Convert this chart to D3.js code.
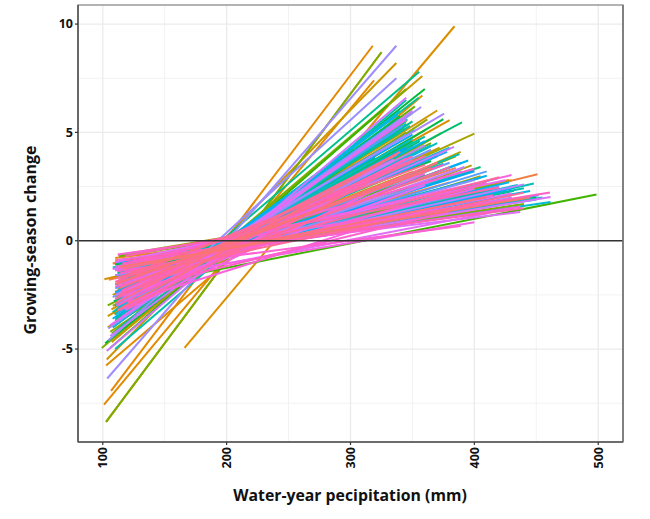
<!DOCTYPE html>
<html><head><meta charset="utf-8">
<script src="https://cdn.jsdelivr.net/npm/d3@7"></script>
<style>
body{margin:0;background:#fff}
text{font-family:"Open Sans","Noto Sans",sans-serif;font-weight:700;fill:#111}
</style>
</head><body>
<svg id="chart" width="650" height="519"></svg>
<script>
// One regression line per site: start (precip, change) and end (precip, change)
const startX = [
  110,110,113,110,112,108,118,105,108.6,112,116,110,120,106.7,101,102.7,
  102.7,166,107,101.3,110,120,104,109,103.2,107.2,115,120,111,114,118,108,
  104,108,110,112,117,114,112.6,115,110,106,118,111,112,110,116,120,
  99.2,102.7,104,107.2,113,116,113,123,110,120,106,115,114,110,118,112,
  101.9,125,115,112,109,122,108,118,112,112,111,110,116,110,113,120,
  110,110,112,112,115,114,112,108,120,110,108,110,112,115,110,118,
  113,110,115,112,118,108,110,114,110,112,116,120,112,110,116,113,
  110,112,115,108,113,118,110,112,116,111,114,120,110,115,112,118,
  110,112,115,108,113,110,116,104.5,103.6,104.5,111,113,112,110,116,114,
  106,110,118,103.2,108,110,115,112,118,110,116,106,112,115,110,118,
  112,114,116,120,112,115,112,112,115,110,116,112,110,114,112,118,
  118,115,112,120,110,112,110,113,118,110,122,113,112,116,110,114];
const startY = [
  -0.90,-1.37,-1.81,-2.35,-2.99,-1.05,-1.50,-1.8,-1.05,-1.2,-2.6,-0.8,-2.0,-6.93,-7.56,-8.36,
  -5.76,-4.95,-3.17,-1.78,-4.51,-1.89,-3.48,-3.38,-5.48,-4.68,-2.44,-1.07,-2.0,-3.0,-1.4,-2.5,
  -4.0,-3.0,-2.6,-2.2,-2.11,-2.5,-0.67,-2.9,-1.70,-4.2,-0.94,-3.6,-1.5,-3.4,-2.3,-1.0,
  -4.95,-8.36,-2.98,-4.28,-0.72,-1.84,-3.76,-2.11,-3.2,-2.16,-4.95,-1.24,-2.6,-1.1,-3.3,-1.9,
  -4.73,-1.53,-3.23,-2.14,-2.8,-1.30,-3.99,-2.62,-3.5,-1.07,-2.91,-2.4,-2.0,-3.7,-1.3,-2.9,
  -4.2,-3.61,-3.0,-2.46,-3.96,-2.7,-1.50,-3.3,-2.0,-5.0,-1.23,-1.6,-2.3,-3.4,-1.0,-2.6,
  -2.9,-3.4,-2.3,-1.4,-1.9,-4.0,-1.2,-2.6,-2.02,-3.1,-1.7,-2.4,-1.6,-3.0,-2.2,-3.6,
  -1.3,-2.8,-1.8,-3.6,-2.2,-1.5,-3.0,-1.0,-2.5,-3.8,-1.9,-2.7,-2.4,-1.2,-3.3,-1.9,
  -2.2,-1.4,-3.1,-2.6,-1.7,-3.8,-2.0,-4.6,-6.36,-4.05,-3.0,-1.2,-2.8,-1.6,-3.5,-2.1,
  -4.4,-2.5,-3.11,-5.09,-1.3,-1.35,-2.42,-0.9,-1.96,-0.99,-2.57,-3.9,-1.9,-2.7,-1.2,-3.2,
  -1.88,-3.2,-1.06,-2.83,-0.64,-1.17,-1.40,-1.29,-2.36,-2.12,-1.05,-3.0,-2.7,-1.5,-2.0,-0.9,
  -0.71,-2.3,-2.6,-3.1,-1.9,-1.70,-1.74,-2.5,-1.6,-2.9,-1.74,-2.2,-3.2,-1.3,-2.0,-1.2];
const endX = [
  420,425,385,355,335,430,380,451,428,410,350,440,380,318,319,325,
  358,384,380,430,335,350,360,370,337,358,325,400,400,350,425,372,
  373,389,397.8,405,340,400,330,355,390,362,410,345,415,343,385,440,
  345,325,365,352,310,360,345,330,340,498.6,330,415,362,450,338,398,
  360,370,375,365,350,395,340,320,335,430,390,345,405,350,432,356,
  355.5,350,340,345,355,360,405,348,370,345,440,448,388,346,455,370,
  350,345,380,435,400,340,461.5,365,375,335,420,355,428,352,395,338,
  445,360,410,340,390,430,350,450,370,330,400,345,378,452,342,410,
  380,420,345,365,400,340,390,337,337,357,375.6,430,360,440,340,392,
  350,383.6,335,345,461.5,430,335,437,412,425,360,345,400,360,430,340,
  400,340,430,350,410,437,389,400,380,410,461,345,350,415,375,440,
  420,360,335,345,350,420,440,380,360,340,365,370,338,410,365,445];
const endY = [
  1.43,2.73,3.36,3.78,4.59,2.1,2.69,3.07,2.8,2.2,3.1,1.6,2.9,9.0,7.4,8.7,
  6.7,9.9,5.57,2.79,5.84,3.17,5.1,6.01,8.2,7.6,3.44,1.87,3.3,4.4,2.3,4.3,
  4.95,4.1,3.48,2.98,3.24,4.94,1.41,4.4,3.06,5.6,1.55,5.0,2.6,5.2,3.9,1.7,
  7.0,8.7,4.5,6.2,1.0,3.04,5.52,3.28,4.7,2.13,6.25,2.36,4.3,2.0,5.0,3.2,
  7.0,2.88,5.61,3.68,4.6,2.52,5.75,3.84,5.3,1.95,5.46,4.2,3.4,5.9,2.3,4.6,
  7.8,5.51,5.0,3.83,6.6,4.8,2.90,5.3,3.9,6.5,2.42,2.64,4.0,5.6,2.0,4.5,
  4.7,5.4,4.3,2.57,3.3,6.0,1.79,4.4,3.55,5.0,2.9,4.1,2.7,5.1,3.7,5.8,
  2.3,4.6,3.0,5.6,3.6,2.4,4.9,1.9,4.0,5.2,3.2,4.3,4.1,2.1,5.3,3.2,
  3.6,2.5,4.9,4.2,2.8,5.6,3.2,7.5,9.0,6.17,5.87,2.0,4.4,2.6,5.5,3.4,
  6.0,4.33,3.4,6.6,2.02,2.18,3.74,1.33,1.28,2.79,2.56,5.6,2.4,3.1,1.9,2.9,
  0.85,3.6,3.03,1.31,1.74,1.57,0.68,3.32,1.35,2.68,2.23,3.8,3.9,2.1,3.5,1.5,
  2.46,3.9,3.9,3.6,3.7,2.93,2.22,3.4,3.5,4.1,3.36,3.6,4.0,2.0,3.3,2.0];

const xTicks = [100, 200, 300, 400, 500];
const xMinor = [150, 250, 350, 450];
const yTicks = [-5, 0, 5, 10];
const yMinor = [-7.5, -2.5, 2.5, 7.5];
const xTitle = "Water-year pecipitation (mm)";
const yTitle = "Growing-season change";

// ggplot-style hue palette (polar LUV)
function hclColor(h, c, l) {
  const hr = h * Math.PI / 180;
  const U = c * Math.cos(hr), V = c * Math.sin(hr);
  const WX = 95.047, WY = 100.0, WZ = 108.883;
  const Y = WY * (l > 7.999592 ? Math.pow((l + 16) / 116, 3) : l / 903.3);
  const t = WX + WY + WZ, x = WX / t, y = WY / t;
  const uN = 2 * x / (6 * y - x + 1.5), vN = 4.5 * y / (6 * y - x + 1.5);
  const u = U / (13 * l) + uN, v = V / (13 * l) + vN;
  const X = 9 * Y * u / (4 * v);
  const Z = -X / 3 - 5 * Y + 3 * Y / v;
  const g = q => { q = q > 0.00304 ? 1.055 * Math.pow(q, 1 / 2.4) - 0.055 : 12.92 * q; return Math.round(255 * Math.max(0, Math.min(1, q))); };
  const R = g((3.240479 * X - 1.537150 * Y - 0.498535 * Z) / WY);
  const G = g((-0.969256 * X + 1.875992 * Y + 0.041556 * Z) / WY);
  const B = g((0.055648 * X - 0.204043 * Y + 1.057311 * Z) / WY);
  return `rgb(${R},${G},${B})`;
}

const W = 650, H = 519;
const P = {l: 78, r: 623, t: 5, b: 442};
const svg = d3.select("#chart");
const x = d3.scaleLinear().domain([80, 520]).range([P.l, P.r]);
const y = d3.scaleLinear().domain([-9.29, 10.88]).range([P.b, P.t]);
const n = startX.length;
const hue = d3.scaleLinear().domain([0, n]).range([15, 375]);

svg.append("rect").attr("x", 0).attr("y", 0).attr("width", W).attr("height", H).attr("fill", "#fff");
svg.append("defs").append("clipPath").attr("id", "clip").append("rect")
  .attr("x", P.l).attr("y", P.t).attr("width", P.r - P.l).attr("height", P.b - P.t);

const grid = svg.append("g");
grid.selectAll(".vmin").data(xMinor).join("line")
  .attr("x1", d => x(d)).attr("x2", d => x(d)).attr("y1", P.t).attr("y2", P.b)
  .attr("stroke", "#f2f2f2").attr("stroke-width", 1);
grid.selectAll(".hmin").data(yMinor).join("line")
  .attr("x1", P.l).attr("x2", P.r).attr("y1", d => y(d)).attr("y2", d => y(d))
  .attr("stroke", "#f2f2f2").attr("stroke-width", 1);
grid.selectAll(".vmaj").data(xTicks).join("line")
  .attr("x1", d => x(d)).attr("x2", d => x(d)).attr("y1", P.t).attr("y2", P.b)
  .attr("stroke", "#ebebeb").attr("stroke-width", 1.3);
grid.selectAll(".hmaj").data(yTicks).join("line")
  .attr("x1", P.l).attr("x2", P.r).attr("y1", d => y(d)).attr("y2", d => y(d))
  .attr("stroke", "#ebebeb").attr("stroke-width", 1.3);

const segs = d3.range(n).map(i => ({i, pts: [[startX[i], startY[i]], [endX[i], endY[i]]]}));
const line = d3.line().x(d => x(d[0])).y(d => y(d[1]));
svg.append("g").attr("clip-path", "url(#clip)").selectAll("path").data(segs).join("path")
  .attr("d", d => line(d.pts))
  .attr("fill", "none")
  .attr("stroke", d => hclColor(hue(d.i), 100, 65))
  .attr("stroke-width", 2);

// zero reference line
svg.append("line").attr("x1", P.l).attr("x2", P.r).attr("y1", y(0)).attr("y2", y(0))
  .attr("stroke", "#333").attr("stroke-width", 1.6);

// panel border
svg.append("rect").attr("x", P.l).attr("y", P.t).attr("width", P.r - P.l).attr("height", P.b - P.t)
  .attr("fill", "none").attr("stroke", "#8c8c8c").attr("stroke-width", 1.3);
svg.append("line").attr("x1", P.l).attr("x2", P.l).attr("y1", P.t).attr("y2", P.b).attr("stroke", "#555").attr("stroke-width", 1.6);
svg.append("line").attr("x1", P.l).attr("x2", P.r).attr("y1", P.b).attr("y2", P.b).attr("stroke", "#555").attr("stroke-width", 1.6);
svg.append("line").attr("x1", P.r).attr("x2", P.r).attr("y1", P.t).attr("y2", P.b).attr("stroke", "#666").attr("stroke-width", 1.3);

// y axis ticks + labels
const ya = svg.append("g");
ya.selectAll("line").data(yTicks).join("line")
  .attr("x1", P.l - 3).attr("x2", P.l).attr("y1", d => y(d)).attr("y2", d => y(d))
  .attr("stroke", "#333").attr("stroke-width", 1.2);
ya.selectAll("text").data(yTicks).join("text")
  .attr("x", P.l - 5).attr("y", d => y(d)).attr("dy", "0.35em")
  .attr("text-anchor", "end").attr("font-size", 12.5).text(d => d);

// x axis ticks + labels
const xa = svg.append("g");
xa.selectAll("line").data(xTicks).join("line")
  .attr("x1", d => x(d)).attr("x2", d => x(d)).attr("y1", P.b).attr("y2", P.b + 3)
  .attr("stroke", "#333").attr("stroke-width", 1.2);
xa.selectAll("text").data(xTicks).join("text")
  .attr("transform", d => `translate(${x(d)},${P.b + 5}) rotate(-90)`)
  .attr("dy", "0.35em").attr("text-anchor", "end").attr("font-size", 12.5).text(d => d);

svg.append("text").attr("x", 350).attr("y", 501).attr("text-anchor", "middle")
  .attr("font-size", 15.8).text(xTitle);
svg.append("text").attr("transform", "translate(36,240) rotate(-90)").attr("text-anchor", "middle")
  .attr("font-size", 16).text(yTitle);
</script>
</body></html>
